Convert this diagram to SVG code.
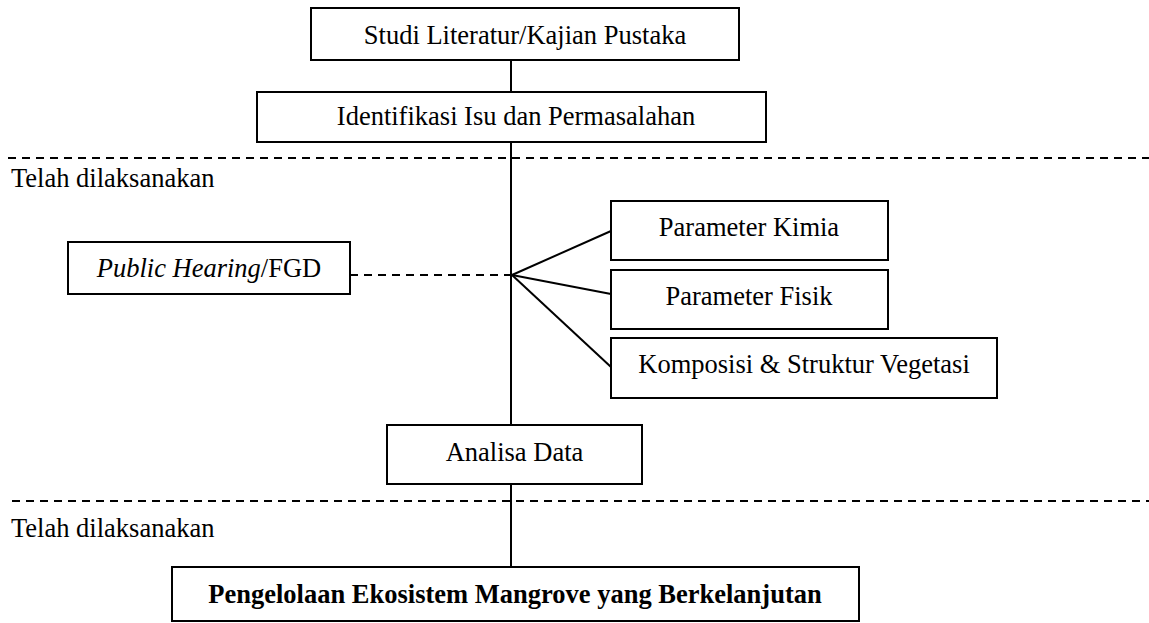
<svg xmlns="http://www.w3.org/2000/svg" width="1149" height="623" viewBox="0 0 1149 623">
<style>
.box{fill:#fff;stroke:#000;stroke-width:2}
.t{font-family:"Liberation Serif","Times New Roman",serif;font-size:26.5px;fill:#000}
.c{text-anchor:middle}
.ln{stroke:#000;stroke-width:2;fill:none}
.dash{stroke:#000;stroke-width:2;stroke-dasharray:8 6;fill:none}
</style>
<rect width="1149" height="623" fill="#fff"/>
<g id="connectors">
<line class="ln" x1="511" y1="60" x2="511" y2="92"/>
<line class="ln" x1="511" y1="142" x2="511" y2="425"/>
<line class="ln" x1="511" y1="484" x2="511" y2="567"/>
<line class="dash" x1="350" y1="275" x2="511" y2="275"/>
<line class="ln" x1="512" y1="275" x2="611" y2="231"/>
<line class="ln" x1="512" y1="275" x2="611" y2="294"/>
<line class="ln" x1="512" y1="275" x2="611" y2="367"/>
</g>
<g id="separators">
<line class="dash" x1="8" y1="158" x2="1149" y2="158"/>
<line class="dash" x1="12" y1="501" x2="1149" y2="501"/>
<text class="t" x="11" y="187">Telah dilaksanakan</text>
<text class="t" x="11" y="537">Telah dilaksanakan</text>
</g>
<g id="studi">
<rect class="box" x="311" y="8" width="428" height="52"/>
<text class="t c" x="525" y="44">Studi Literatur/Kajian Pustaka</text>
</g>
<g id="identifikasi">
<rect class="box" x="257" y="92" width="509" height="50"/>
<text class="t c" x="516" y="125">Identifikasi Isu dan Permasalahan</text>
</g>
<g id="public">
<rect class="box" x="68" y="242" width="282" height="52"/>
<text class="t c" x="209" y="277"><tspan font-style="italic">Public Hearing</tspan>/FGD</text>
</g>
<g id="kimia">
<rect class="box" x="611" y="201" width="277" height="59"/>
<text class="t c" x="749" y="236">Parameter Kimia</text>
</g>
<g id="fisik">
<rect class="box" x="611" y="270" width="277" height="59"/>
<text class="t c" x="749" y="305">Parameter Fisik</text>
</g>
<g id="komposisi">
<rect class="box" x="611" y="338" width="386" height="60"/>
<text class="t c" x="804" y="373">Komposisi &amp; Struktur Vegetasi</text>
</g>
<g id="analisa">
<rect class="box" x="387" y="425" width="255" height="59"/>
<text class="t c" x="514.5" y="461">Analisa Data</text>
</g>
<g id="pengelolaan">
<rect class="box" x="172" y="567" width="687" height="54"/>
<text class="t c" x="515" y="603" font-weight="bold">Pengelolaan Ekosistem Mangrove yang Berkelanjutan</text>
</g>
</svg>
